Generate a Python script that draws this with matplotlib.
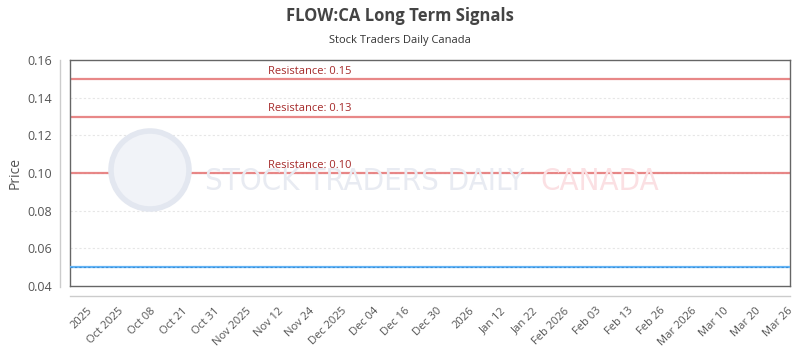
import matplotlib
matplotlib.use("Agg")
import matplotlib.pyplot as plt
from matplotlib.lines import Line2D
from matplotlib.patches import Circle
from matplotlib import font_manager

plt.rcParams['font.family'] = ['Open Sans', 'DejaVu Sans']

title = "FLOW:CA Long Term Signals"
subtitle = "Stock Traders Daily Canada"
x_labels = ["2025", "Oct 2025", "Oct 08", "Oct 21", "Oct 31", "Nov 2025", "Nov 12",
            "Nov 24", "Dec 2025", "Dec 04", "Dec 16", "Dec 30", "2026", "Jan 12",
            "Jan 22", "Feb 2026", "Feb 03", "Feb 13", "Feb 26", "Mar 2026", "Mar 10",
            "Mar 20", "Mar 26"]
price_level = 0.05
resistance_levels = [0.15, 0.13, 0.10]
resistance_labels = ["Resistance: 0.15", "Resistance: 0.13", "Resistance: 0.10"]
y_ticks = [0.04, 0.06, 0.08, 0.10, 0.12, 0.14, 0.16]

fig = plt.figure(figsize=(8, 3.5), dpi=100)
W, H = 800, 350
L, R, T, B = 70, 790, 60, 286
ax = fig.add_axes([L / W, 1 - B / H, (R - L) / W, (B - T) / H])

n = len(x_labels)
ax.set_xlim(-0.52, n - 1 + 0.1)
ax.set_ylim(0.04, 0.16)

# grid
for y in y_ticks[1:-1]:
    ax.axhline(y, color='#e6e6e6', lw=0.8, ls=(0, (2, 2)), zorder=0)

# watermark
circ = Circle((150, 180), 39, transform=None, facecolor='#f1f3f8', edgecolor='#e3e7f0',
              lw=4, zorder=0)
fig.patches.append(circ)
wm_font = font_manager.FontProperties(family='DejaVu Sans', stretch='condensed', size=24)
t1 = fig.text(205 / W, 1 - 181 / H, "STOCK TRADERS DAILY", fontproperties=wm_font,
              color='#e8ebf2', va='center', ha='left', zorder=0)
t2 = fig.text(540 / W, 1 - 181 / H, "CANADA", fontproperties=wm_font,
              color='#fbe0e3', va='center', ha='left', zorder=0)
fig.canvas.draw()
r = fig.canvas.get_renderer()
w1 = t1.get_window_extent(r).width
if w1 > 0:
    t1.set_fontsize(24 * 320 / w1)
    t2.set_fontsize(24 * 320 / w1)

# resistance
for lvl, lab in zip(resistance_levels, resistance_labels):
    ax.axhline(lvl, color='#e57373', lw=1.6, alpha=0.85, zorder=2)
    ax.text(7.0, lvl + 0.0012, lab, color='#a52a2a', fontsize=8, ha='center', va='bottom',
            zorder=3)

# price line
ax.axhline(price_level, color='#64b5f6', lw=1.6, zorder=3)
ax.axhline(price_level, color='#3d8fd6', lw=0.8, ls=(0, (2, 2)), zorder=4)

for s in ax.spines.values():
    s.set_color('#666666')
    s.set_linewidth(1.0)

ax.set_yticks(y_ticks)
ax.set_yticklabels([f"{v:.2f}" for v in y_ticks], color='#555555', fontsize=9)
ax.tick_params(axis='y', length=0, pad=13)
ax.set_xticks(range(n))
ax.set_xticklabels(x_labels, rotation=45, ha='right', rotation_mode='anchor',
                   color='#555555', fontsize=8)
ax.tick_params(axis='x', length=0, pad=14)
ax.set_ylabel("Price", color='#555555', fontsize=10, labelpad=3)

# offset axis lines
fig.add_artist(Line2D([60 / W, 60 / W], [1 - 60 / H, 1 - 287 / H], color='#cccccc', lw=1))
fig.add_artist(Line2D([L / W, R / W], [1 - 296 / H, 1 - 296 / H], color='#cccccc', lw=1))

fig.text(0.5, 1 - 16 / H, title, ha='center', va='center', fontsize=12, fontweight='bold',
         color='#444444')
fig.text(0.5, 1 - 40 / H, subtitle, ha='center', va='center', fontsize=8, color='#333333')

fig.savefig("out.png", dpi=100)
